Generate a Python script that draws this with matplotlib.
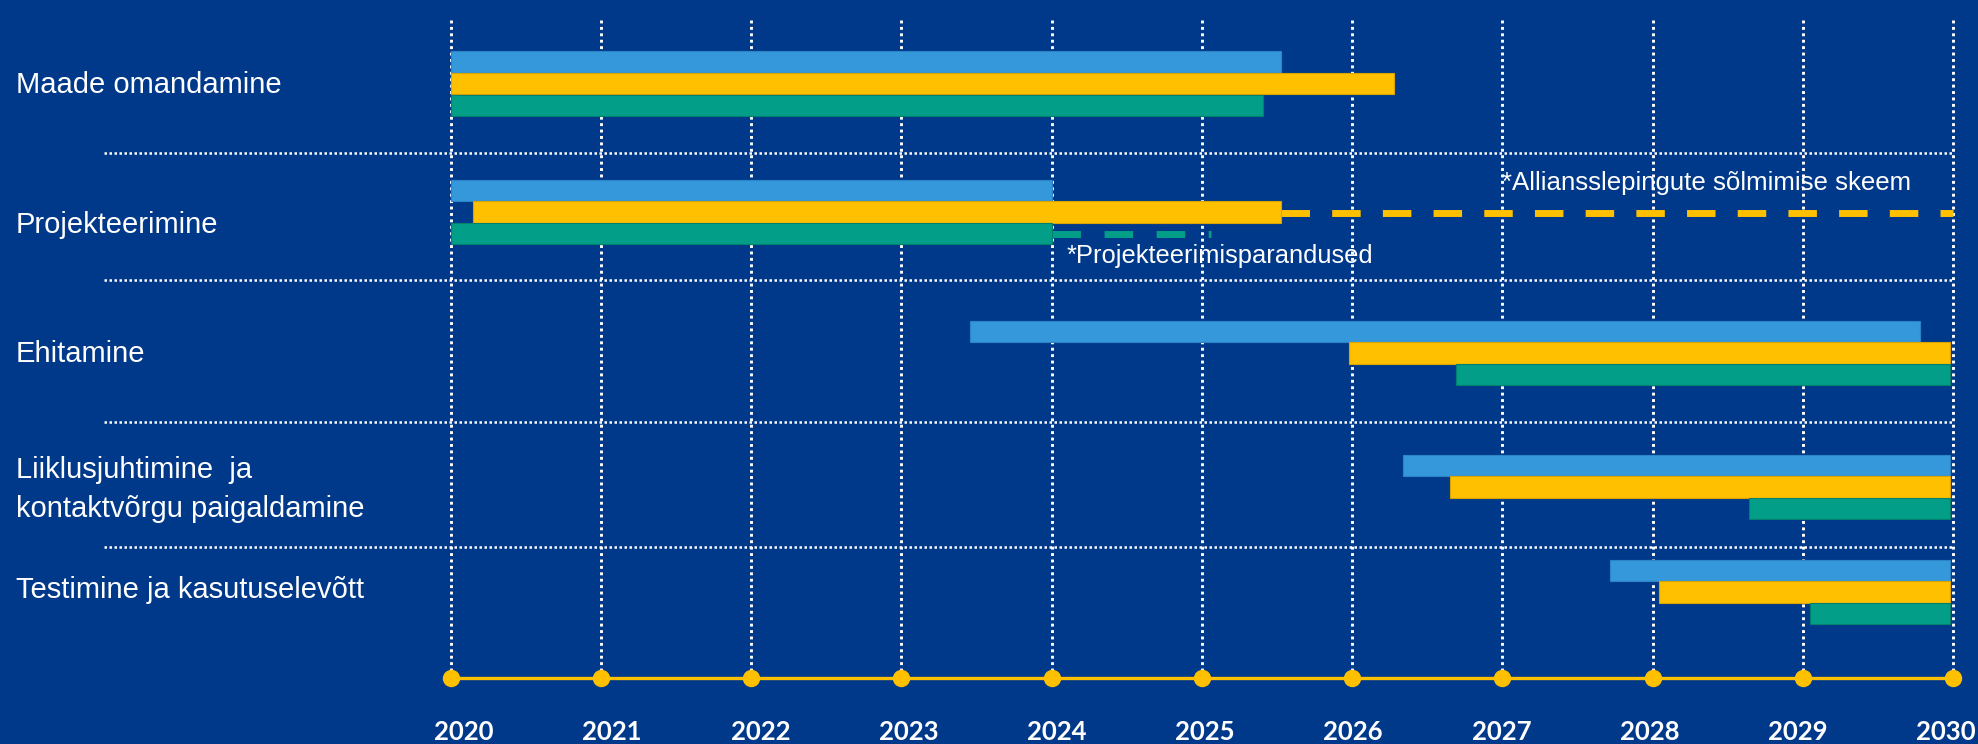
import matplotlib
matplotlib.use("Agg")
import matplotlib.pyplot as plt

# --- data -------------------------------------------------------------
tasks = ["Maade omandamine",
         "Projekteerimine",
         "Ehitamine",
         "Liiklusjuhtimine  ja\nkontaktvõrgu paigaldamine",
         "Testimine ja kasutuselevõtt"]
years = [2020, 2021, 2022, 2023, 2024, 2025, 2026, 2027, 2028, 2029, 2030]

blue_start = [2020, 2020, 2023.46, 2026.34, 2027.72]
blue_end = [2025.53, 2024.0, 2029.78, 2029.98, 2029.98]
yellow_start = [2020, 2020.15, 2025.98, 2026.65, 2028.04]
yellow_end = [2026.28, 2025.53, 2029.98, 2029.98, 2029.98]
green_start = [2020, 2020, 2026.69, 2028.64, 2029.05]
green_end = [2025.41, 2024.0, 2029.98, 2029.98, 2029.98]

# dashed continuations on "Projekteerimine"
yellow_dash = [2025.53, 2030]
green_dash = [2024.0, 2025.06]
note_yellow = "*Alliansslepingute sõlmimise skeem"
note_green = "*Projekteerimisparandused"

# --- layout / style ---------------------------------------------------
W, H, DPI = 1978, 744, 100
x0_px, px_per_year = 450.7, 150.23
row_mid = [83.7, 212, 353, 487, 592]       # centre of middle (yellow) bar, px from top
label_base = [93, 233, 362, 517, 598]      # baseline of last text line
separators = [153, 280, 422, 547]
bar_h = 21.6
timeline_y = 678
grid_top = 20
lab_x0, lab_step = 464, 148.2              # year labels sit on their own even spacing

bg = "#01398A"
c_blue = "#3498DB"
c_yellow = "#FFC000"
c_green = "#039E88"

fig = plt.figure(figsize=(W / DPI, H / DPI), dpi=DPI, facecolor=bg)
ax = fig.add_axes([0, 0, 1, 1])
ax.set_facecolor(bg)
ax.set_xlim(2020 - x0_px / px_per_year, 2020 + (W - x0_px) / px_per_year)
ax.set_ylim(H, 0)
ax.axis("off")

# vertical dotted year lines
ax.vlines(years, grid_top, timeline_y, colors="white", linewidth=2.1,
          linestyles=[(0, (1, 1.2))], zorder=1)

# horizontal separators
for y in separators:
    ax.plot([2020 - (x0_px - 104) / px_per_year, 2030], [y, y], color="white",
            lw=1.8, linestyle=(0, (1, 1)), dash_capstyle="butt", zorder=1)

# bars
series = [(blue_start, blue_end, c_blue, "#2C84C4", -1),
          (yellow_start, yellow_end, c_yellow, "#D9A300", 0),
          (green_start, green_end, c_green, "#02806E", 1)]
for starts, ends, col, edge, k in series:
    ys = [m + k * bar_h for m in row_mid]
    widths = [e - s for s, e in zip(starts, ends)]
    ax.barh(ys, widths, left=starts, height=bar_h, color=col,
            edgecolor=edge, linewidth=0.8, zorder=3)

# dashed continuations
ax.plot(yellow_dash, [row_mid[1] + 1, row_mid[1] + 1], color=c_yellow, lw=5,
        linestyle=(0, (4.1, 3.2)), dash_capstyle="butt", zorder=2)
ax.plot(green_dash, [row_mid[1] + bar_h, row_mid[1] + bar_h], color=c_green, lw=5,
        linestyle=(0, (4.1, 3.4)), dash_capstyle="butt", zorder=2)

ax.text(2027.0, 190, note_yellow, color="white", fontsize=18.6,
        family=["Liberation Sans", "DejaVu Sans"], va="baseline", ha="left", zorder=4)
ax.text(2024.1, 263, note_green, color="white", fontsize=18.4,
        family=["Liberation Sans", "DejaVu Sans"], va="baseline", ha="left", zorder=4)

# task labels
for name, yb in zip(tasks, label_base):
    lines = name.split("\n")
    for i, ln in enumerate(lines):
        y = yb - (len(lines) - 1 - i) * 39
        ax.text(15.6 / W, y, ln, transform=ax.get_yaxis_transform(),
                color="white", fontsize=21,
                family=["Liberation Sans", "DejaVu Sans"],
                va="baseline", ha="left")

# timeline with year dots
ax.plot(years, [timeline_y] * len(years), color=c_yellow, lw=2.4,
        marker="o", markersize=11.5, zorder=4)
for i, yr in enumerate(years):
    xl = 2020 + (lab_x0 + i * lab_step - x0_px) / px_per_year
    ax.text(xl, 740, str(yr), color="white", fontsize=18.5, fontweight="bold",
            family=["Lato", "DejaVu Sans"], ha="center", va="baseline")

fig.savefig("out.png", dpi=DPI, facecolor=bg)
